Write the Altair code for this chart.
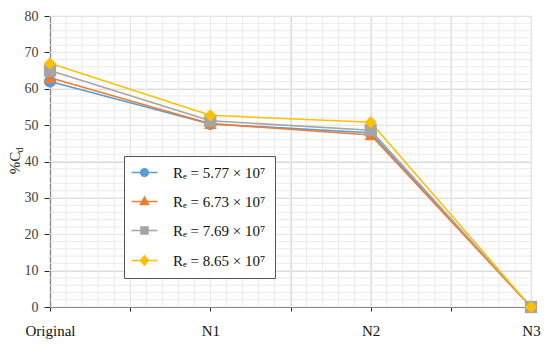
import altair as alt
import pandas as pd
import numpy as np

categories = ["Original", "N1", "N2", "N3"]
cat_pos = [0, 1, 2, 3]
series = ["Rₑ = 5.77 × 10⁷", "Rₑ = 6.73 × 10⁷", "Rₑ = 7.69 × 10⁷", "Rₑ = 8.65 × 10⁷"]
vals_577 = [62.0, 50.3, 47.9, 0.0]
vals_673 = [63.0, 50.4, 47.3, 0.0]
vals_769 = [65.0, 51.2, 48.6, 0.0]
vals_865 = [67.0, 52.7, 50.8, 0.0]
colors = ["#5B9BD5", "#ED7D31", "#A5A5A5", "#FFC000"]
shapes = ["circle", "triangle-up", "square", "diamond"]

all_vals = [vals_577, vals_673, vals_769, vals_865]
rows = []
for s, vals in zip(series, all_vals):
    for c, p, v in zip(categories, cat_pos, vals):
        rows.append({"series": s, "cat": c, "x": p, "y": v})
df = pd.DataFrame(rows)

# legend symbols: line + marker
line = "M-2.6,0H2.6"
legend_paths = [
    line + "M-0.75,0A0.75,0.75,0,1,1,0.75,0A0.75,0.75,0,1,1,-0.75,0Z",
    line + "M0,-0.85L0.8,0.6L-0.8,0.6Z",
    line + "M-0.7,-0.7H0.7V0.7H-0.7Z",
    line + "M0,-0.9L0.8,0L0,0.9L-0.8,0Z",
]

FONT = "Liberation Serif"

xscale = alt.Scale(domain=[0, 3], nice=False, zero=False)
yscale = alt.Scale(domain=[0, 80], nice=False)

label_expr = ("datum.value == 0 ? 'Original' : datum.value == 1 ? 'N1' : "
              "datum.value == 2 ? 'N2' : datum.value == 3 ? 'N3' : ''")

x_ticks = [0, 0.5, 1, 1.5, 2, 2.5, 3]
y_ticks = [0, 10, 20, 30, 40, 50, 60, 70, 80]

x_axis = alt.Axis(values=x_ticks, labelExpr=label_expr, grid=True, labelFont=FONT,
                  tickSize=4, labelFontSize=15, labelColor="#111111", labelPadding=12,
                  labelFlush=False, labelOverlap=False, title=None)
y_axis = alt.Axis(values=y_ticks, grid=True, tickSize=6, labelFont=FONT,
                  labelFontSize=14, labelColor="#404040", labelPadding=6, title=None)


def X(field="x"):
    return alt.X(field + ":Q", scale=xscale, axis=x_axis, title=None)


def Y(field="y"):
    return alt.Y(field + ":Q", scale=yscale, axis=y_axis, title=None)


minor_x = pd.DataFrame({"x": np.round(np.arange(0, 3.0001, 0.1), 2)})
minor_y = pd.DataFrame({"y": np.arange(0, 80.001, 2)})

vgrid = alt.Chart(minor_x).mark_rule(color="#ebebeb", strokeWidth=1).encode(x=X())
hgrid = alt.Chart(minor_y).mark_rule(color="#ebebeb", strokeWidth=1).encode(y=Y())

color_scale = alt.Scale(domain=series, range=colors)

lines = alt.Chart(df).mark_line(strokeWidth=1.6).encode(
    x=X(), y=Y(),
    color=alt.Color("series:N", scale=color_scale, legend=None),
    detail="series:N",
)

point_layers = []
for s, shp in zip(series, shapes):
    point_layers.append(
        alt.Chart(df).transform_filter(alt.datum.series == s)
        .mark_point(filled=True, opacity=1, size=150, shape=shp)
        .encode(x=X(), y=Y(),
                color=alt.Color("series:N", scale=color_scale, legend=None))
    )

legend_layer = alt.Chart(df).mark_point(filled=True, size=0, opacity=1).encode(
    x=X(), y=Y(),
    fill=alt.Fill("series:N", scale=alt.Scale(domain=series, range=colors),
                  legend=alt.Legend(title=None)),
    stroke=alt.Stroke("series:N", scale=alt.Scale(domain=series, range=colors),
                      legend=alt.Legend(title=None)),
    shape=alt.Shape("series:N", scale=alt.Scale(domain=series, range=legend_paths),
                    legend=alt.Legend(title=None)),
)

title_main = alt.Chart(pd.DataFrame({"t": ["%C"]})).mark_text(
    angle=270, align="center", baseline="middle", font=FONT,
    fontSize=15, color="#222222"
).encode(text="t:N", x=alt.value(-35), y=alt.value(147))

title_sub = alt.Chart(pd.DataFrame({"t": ["d"]})).mark_text(
    angle=270, align="center", baseline="middle", font=FONT,
    fontSize=10, color="#222222"
).encode(text="t:N", x=alt.value(-30), y=alt.value(134))

chart = alt.layer(
    vgrid, hgrid, legend_layer, lines, *point_layers, title_main, title_sub
).properties(
    width=481, height=291,
    autosize=alt.AutoSizeParams(type="none"),
    padding={"left": 42, "top": 8, "right": 11, "bottom": 38},
).configure(font=FONT).configure_view(stroke=None).configure_axis(
    labelFont=FONT, gridColor="#d9d9d9", domainColor="#262626",
    tickColor="#262626", domainWidth=1.2,
).configure_legend(
    orient="none", legendX=74, legendY=140, padding=9, symbolOffset=4,
    labelOffset=21, rowPadding=13, symbolSize=100, symbolStrokeWidth=1.6,
    labelFont=FONT, labelFontSize=15, labelColor="#111111",
    strokeColor="#555555", fillColor="white", cornerRadius=0, labelLimit=300,
)

chart.save("out.html", embed_options={"renderer": "svg", "actions": False})
